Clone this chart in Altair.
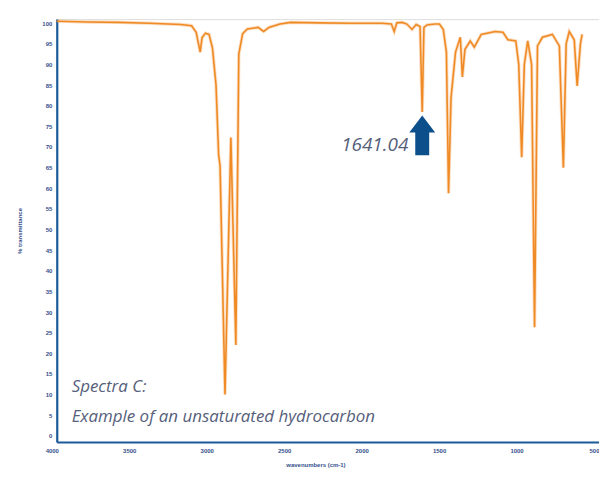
import altair as alt
import pandas as pd

# Spectrum
wavenumber = [4000, 3800, 3600, 3400, 3200, 3130, 3100, 3085, 3074, 3062, 3040, 3017,
              2995, 2972, 2955, 2946, 2914, 2876, 2844, 2825, 2800, 2770, 2700, 2665,
              2630, 2560, 2490, 2300, 2100, 1900, 1840, 1822, 1805, 1770, 1740, 1707,
              1680, 1655, 1641, 1630, 1610, 1560, 1530, 1505, 1485, 1471, 1455, 1426,
              1395, 1382, 1365, 1331, 1305, 1260, 1170, 1120, 1088, 1037, 1018, 999,
              982, 960, 935, 916, 897, 865, 801, 756, 730, 712, 692, 660, 641, 620, 609]
transmittance = [100.5, 100.3, 100.2, 100.0, 99.7, 99.4, 97.8, 95, 93, 96.5, 97.6, 97.3,
                 94, 85, 68, 65.5, 10, 72.3, 22, 92.5, 97.5, 98.6, 99, 98,
                 99, 99.8, 100.2, 100.1, 100, 100, 99.8, 98, 100.1, 100.2, 99.8, 98.5,
                 99.7, 99.2, 78.5, 99, 99.6, 99.8, 99.8, 98.5, 93, 58.8, 82, 93,
                 96.6, 87, 93.7, 95.7, 94.2, 97.3, 98, 97.8, 96, 95.7, 90, 67.5,
                 90, 95.7, 90, 26.3, 94.5, 96.6, 97.3, 94.5, 65, 95, 98, 96, 84.8, 95, 97.3]

x_ticks = [4000, 3500, 3000, 2500, 2000, 1500, 1000, 500]
y_ticks = list(range(0, 101, 5))

# Annotations
peak_label = ["1641.04"]
peak_label_wn = [1641]
peak_label_t = [70.4]
arrow_wn = [1641]
arrow_t = [72.8]
caption_lines = ["Spectra C:", "Example of an unsaturated hydrocarbon"]
caption_wn = [3904, 3904]
caption_t = [10.6, 3.4]

df = pd.DataFrame({"wn": wavenumber, "t": transmittance})
df_peak = pd.DataFrame({"wn": peak_label_wn, "t": peak_label_t, "label": peak_label})
df_arrow = pd.DataFrame({"wn": arrow_wn, "t": arrow_t})
df_cap = pd.DataFrame({"wn": caption_wn, "t": caption_t, "label": caption_lines})

AXIS_BLUE = "#1c5a99"
LABEL_COL = "#34508c"
ORANGE = "#ef8a25"
TEXT_GRAY = "#56607a"
FONT = "Open Sans"

xs = alt.X("wn:Q",
           scale=alt.Scale(domain=[500, 4000], reverse=True, nice=False, zero=False),
           axis=alt.Axis(values=x_ticks, format="d", title="wavenumbers (cm-1)", grid=False,
                         ticks=False, domainColor=AXIS_BLUE, domainWidth=2.2,
                         labelFontSize=6, labelColor=LABEL_COL, labelPadding=6,
                         labelOffset=-5, labelFlush=False, labelFontWeight="bold",
                         labelOverlap=False,
                         titleFontSize=6, titleColor=LABEL_COL, titleFontWeight="bold",
                         titleX=260, titleY=23, titleBaseline="middle"))
ys = alt.Y("t:Q",
           scale=alt.Scale(domain=[-1.5, 101], nice=False, zero=False),
           axis=alt.Axis(values=y_ticks, tickCount=21, format="d", title="% transmittance",
                         grid=False, ticks=False, domainColor=AXIS_BLUE, domainWidth=2.2,
                         labelFontSize=6, labelColor=LABEL_COL, labelPadding=5,
                         labelFontWeight="bold", labelFlush=False, labelOverlap=False,
                         labelSeparation=0,
                         titleFontSize=6, titleColor=LABEL_COL, titleFontWeight="bold",
                         titlePadding=19))

halo = alt.Chart(df).mark_line(color=ORANGE, strokeWidth=3.4, opacity=0.28).encode(x=xs, y=ys)
line = alt.Chart(df).mark_line(color=ORANGE, strokeWidth=1.6).encode(x=xs, y=ys)

arrow_path = "M0,-1 L0.65,-0.15 L0.35,-0.15 L0.35,1 L-0.35,1 L-0.35,-0.15 L-0.65,-0.15 Z"
arrow = alt.Chart(df_arrow).mark_point(shape=arrow_path, size=1600, filled=True,
                                       color="#0d4f8b", opacity=1, strokeWidth=0).encode(
    x=xs, y=ys)

peak_text = alt.Chart(df_peak).mark_text(align="right", baseline="middle", dx=-14,
                                         fontSize=19, fontStyle="italic", font=FONT,
                                         color=TEXT_GRAY).encode(
    x=xs, y=ys, text="label:N")

caption = alt.Chart(df_cap).mark_text(align="left", baseline="alphabetic",
                                      fontSize=17, fontStyle="italic", font=FONT,
                                      color=TEXT_GRAY).encode(
    x=xs, y=ys, text="label:N")

chart = alt.layer(halo, line, arrow, peak_text, caption).properties(
    width=545, height=425,
    autosize=alt.AutoSizeParams(type="none"),
    padding={"left": 49, "top": 10, "right": 0, "bottom": 28},
).configure_view(stroke=None).configure(background="white")

chart.save("out.html", embed_options={"renderer": "svg", "actions": False})
